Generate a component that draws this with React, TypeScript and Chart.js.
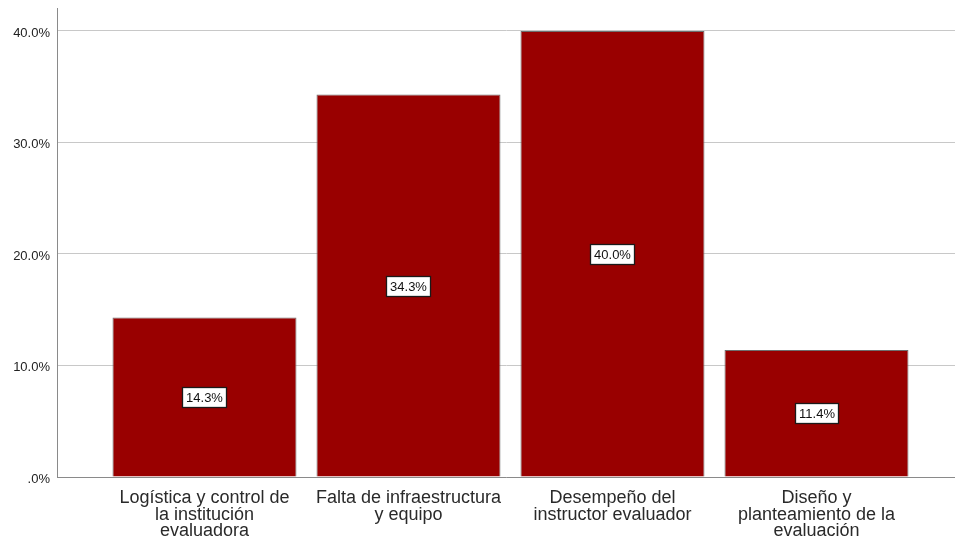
import React, { useEffect, useRef } from "react";
import { Chart, registerables } from "chart.js";

Chart.register(...registerables);

const categories: string[][] = [
  ["Logística y control de", "la institución", "evaluadora"],
  ["Falta de infraestructura", "y equipo"],
  ["Desempeño del", "instructor evaluador"],
  ["Diseño y", "planteamiento de la", "evaluación"],
];
const percentages: number[] = [14.3, 34.3, 40.0, 11.4];
const yTicks: number[] = [0, 10, 20, 30, 40];

const FONT = "'Liberation Sans', Arial, Helvetica, sans-serif";

const labelPlugin = {
  id: "boxLabels",
  afterDatasetsDraw(chart: any) {
    const ctx = chart.ctx;
    const meta = chart.getDatasetMeta(0);
    ctx.save();
    ctx.font = `13px ${FONT}`;
    ctx.textAlign = "center";
    ctx.textBaseline = "middle";
    meta.data.forEach((el: any, i: number) => {
      const p = el.getProps(["x", "y", "base"], true);
      const cy = (p.y + p.base) / 2;
      const text = percentages[i].toFixed(1) + "%";
      const w = Math.round(ctx.measureText(text).width + 7);
      const h = 20;
      const x0 = Math.round(p.x - w / 2) + 0.5;
      const y0 = Math.round(cy - h / 2) + 0.5;
      ctx.fillStyle = "#ffffff";
      ctx.fillRect(x0, y0, w, h);
      ctx.strokeStyle = "#1a1a1a";
      ctx.lineWidth = 1.3;
      ctx.strokeRect(x0, y0, w, h);
      ctx.fillStyle = "#111111";
      ctx.fillText(text, x0 + w / 2, y0 + h / 2 + 0.5);
    });
    ctx.restore();
  },
};

export default function App() {
  const ref = useRef<HTMLCanvasElement | null>(null);

  useEffect(() => {
    if (!ref.current) return;
    const chart = new Chart(ref.current, {
      type: "bar",
      data: {
        datasets: [
          {
            data: percentages.map((v, i) => ({ x: i + 1, y: v })),
            backgroundColor: "#990000",
            borderColor: "#6e6e6e",
            borderWidth: 1,
            barPercentage: 0.902,
            categoryPercentage: 1,
          },
        ],
      },
      options: {
        responsive: false,
        animation: false,
        events: [],
        layout: { padding: { top: 8, left: 0, right: 0, bottom: 0 } },
        plugins: {
          legend: { display: false },
          tooltip: { enabled: false },
        },
        scales: {
          x: {
            type: "linear",
            offset: false,
            min: 0.277,
            max: 4.679,
            afterBuildTicks: (scale: any) => {
              scale.ticks = categories.map((_, i) => ({ value: i + 1 }));
            },
            afterFit: (scale: any) => {
              scale.height = 68;
              scale.paddingLeft = 0;
              scale.paddingRight = 0;
            },
            grid: { display: false, drawTicks: false, offset: false },
            border: { display: true, color: "#8a8a8a", width: 1 },
            ticks: {
              autoSkip: false,
              maxRotation: 0,
              padding: 13,
              color: "#2a2a2a",
              font: { family: FONT, size: 18, lineHeight: 0.92 },
              callback: (v: any) => categories[Math.round(Number(v)) - 1] ?? "",
            },
          },
          y: {
            min: 0,
            max: 42.06,
            afterBuildTicks: (scale: any) => {
              scale.ticks = yTicks.map((v) => ({ value: v }));
            },
            afterFit: (scale: any) => {
              scale.width = 57;
              scale.paddingTop = 0;
              scale.paddingBottom = 0;
            },
            grid: { display: true, color: "#c8c8c8", drawTicks: false, lineWidth: 1 },
            border: { display: true, color: "#8a8a8a", width: 1 },
            ticks: {
              padding: 7,
              labelOffset: 2,
              color: "#222222",
              font: { family: FONT, size: 13 },
              callback: (v: any) => (Number(v) === 0 ? ".0%" : Number(v).toFixed(1) + "%"),
            },
          },
        },
      },
      plugins: [labelPlugin],
    } as any);
    return () => chart.destroy();
  }, []);

  return (
    <div style={{ position: "absolute", left: 0, top: 0, width: 955, height: 545, background: "#fff" }}>
      <canvas ref={ref} width={955} height={545} style={{ display: "block" }} />
    </div>
  );
}
